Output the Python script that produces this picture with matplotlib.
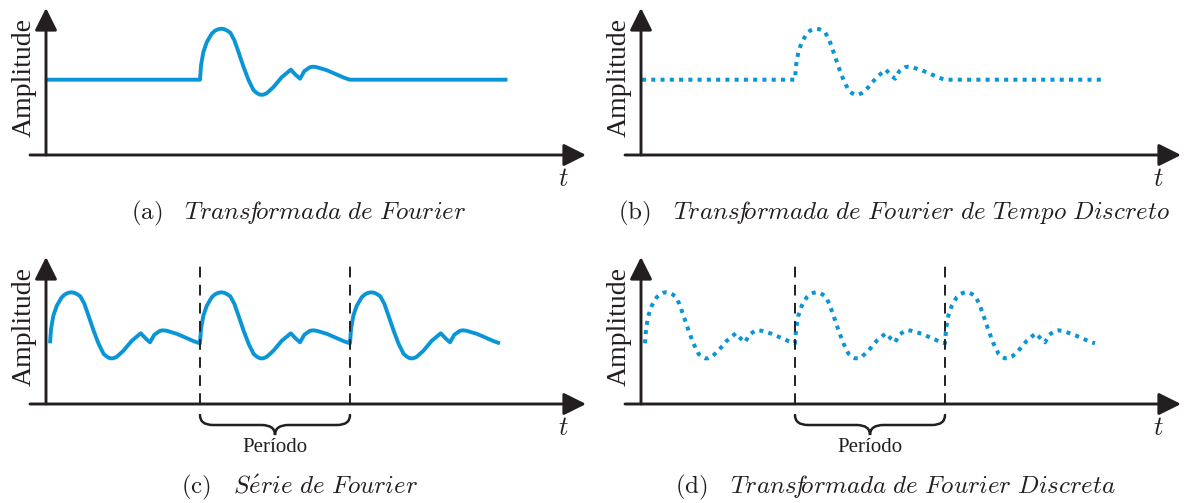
import numpy as np
import matplotlib
matplotlib.use("Agg")
import matplotlib.pyplot as plt
from matplotlib.path import Path
from matplotlib.patches import PathPatch

plt.rcParams['mathtext.fontset'] = 'cm'

# one pulse: time in periods, amplitude relative to the first peak
pulse_t = [0.0, 0.007, 0.022, 0.045, 0.078, 0.100, 0.122, 0.142, 0.162, 0.182, 0.202,
           0.229, 0.257, 0.291, 0.324, 0.357, 0.380, 0.400, 0.422, 0.445, 0.489,
           0.545, 0.605, 0.640, 0.667, 0.695, 0.733, 0.755, 0.778, 0.845, 0.922,
           0.960, 0.989, 1.0]
pulse_amp = [0.0, 0.29, 0.55, 0.75, 0.92, 0.98, 1.01, 1.02, 1.01, 0.98, 0.94,
             0.79, 0.55, 0.25, -0.01, -0.21, -0.27, -0.30, -0.30, -0.27, -0.15,
             0.05, 0.20, 0.09, 0.02, 0.17, 0.25, 0.26, 0.25, 0.19, 0.09,
             0.04, 0.01, 0.0]
flat_start, flat_end = -1.02, 2.05   # flat signal around the single pulse
n_periods = 3
period_marks = [1, 2]

captions = [r"$\mathrm{(a)}\quad\mathit{Trans\!f\!ormada\ de\ Fourier}$",
            r"$\mathrm{(b)}\quad\mathit{Trans\!f\!ormada\ de\ Fourier\ de\ Tempo\ Discreto}$",
            r"$\mathrm{(c)}\quad\mathit{S\acute{e}rie\ de\ Fourier}$",
            r"$\mathrm{(d)}\quad\mathit{Trans\!f\!ormada\ de\ Fourier\ Discreta}$"]
ylabel = "Amplitude"
xlabel = r"$t$"
period_label = "Período"

W, H = 1188, 503
PERIOD_PX, AMP_PX = 150.0, 50.0
BLUE = '#0a96d6'
INK = '#231f20'
SERIF = ['Liberation Serif', 'DejaVu Serif']

fig = plt.figure(figsize=(W / 100, H / 100), dpi=100)


def make_panel(dx, axis_px, t0_px, base_px):
    left, tip, vaxis = 30 + dx, 586 + dx, 46 + dx
    top = axis_px - 147
    ax = fig.add_axes([left / W, 1 - axis_px / H, (tip - left) / W, (axis_px - top) / H])
    ax.set_xlim((left - t0_px) / PERIOD_PX, (tip - t0_px) / PERIOD_PX)
    ax.set_ylim((base_px - axis_px) / AMP_PX, (base_px - top) / AMP_PX)
    ax.axis('off')
    arrow = dict(arrowstyle='-|>,head_length=0.4,head_width=0.2', mutation_scale=34,
                 lw=2.1, color=INK, shrinkA=0, shrinkB=0)
    vx = (vaxis - left) / (tip - left)
    ax.annotate('', xy=(1, 0), xytext=(0, 0), xycoords='axes fraction', arrowprops=arrow)
    ax.annotate('', xy=(vx, 1), xytext=(vx, 0), xycoords='axes fraction', arrowprops=arrow)
    fig.text((vaxis - 22) / W, 1 - (axis_px - 78) / H, ylabel, rotation=90,
             ha='center', va='center', fontsize=20, family=SERIF, color=INK)
    fig.text((563 + dx) / W, 1 - (axis_px + 24) / H, xlabel, ha='center', va='center',
             fontsize=19, color=INK)
    return ax


def add_brace(ax, a, b, y0):
    mid = (a + b) / 2
    y1, y2 = y0 - 0.2, y0 - 0.4
    verts = [(a, y0), (a, y1), (a + 0.087, y1), (mid - 0.09, y1), (mid, y1), (mid, y2),
             (mid, y1), (mid + 0.09, y1), (b - 0.087, y1), (b, y1), (b, y0)]
    codes = [Path.MOVETO, Path.CURVE3, Path.CURVE3, Path.LINETO, Path.CURVE3, Path.CURVE3,
             Path.CURVE3, Path.CURVE3, Path.LINETO, Path.CURVE3, Path.CURVE3]
    ax.add_patch(PathPatch(Path(verts, codes), fill=False, lw=1.8, color=INK,
                           clip_on=False, capstyle='round'))


solid = dict(color=BLUE, lw=2.8, solid_joinstyle='round', solid_capstyle='butt')
dotted = dict(color=BLUE, lw=2.9, linestyle=(0, (1, 1.3)), dash_capstyle='butt')

single_t = [flat_start] + pulse_t + [flat_end]
single_amp = [0.0] + pulse_amp + [0.0]
periodic_t = np.concatenate([np.array(pulse_t) + k for k in range(n_periods)])
periodic_amp = np.tile(pulse_amp, n_periods)

for i, (dx, style) in enumerate([(0, solid), (595, dotted)]):
    # top row: one pulse
    ax = make_panel(dx, 155, 200 + dx, 79.7)
    ax.plot(single_t, single_amp, **style)
    fig.text((299 + dx) / W, 1 - 213 / H, captions[i], ha='center', va='center',
             fontsize=18, color=INK)

    # bottom row: periodic repetition
    ax = make_panel(dx, 404, 50 + dx, 343.3)
    ax.plot(periodic_t, periodic_amp, **style)
    ybot = ax.get_ylim()[0]
    ax.vlines(period_marks, ybot, 1.566, colors=INK, lw=1.4, linestyles=(0, (5.5, 3.8)))
    add_brace(ax, period_marks[0], period_marks[1], ybot - 0.22)
    fig.text((275 + dx) / W, 1 - 447 / H, period_label, ha='center', va='center',
             fontsize=15, family=SERIF, color=INK)
    fig.text((300 + dx) / W, 1 - 487 / H, captions[i + 2], ha='center', va='center',
             fontsize=18, color=INK)

fig.savefig('out.png', dpi=100, facecolor='white')
